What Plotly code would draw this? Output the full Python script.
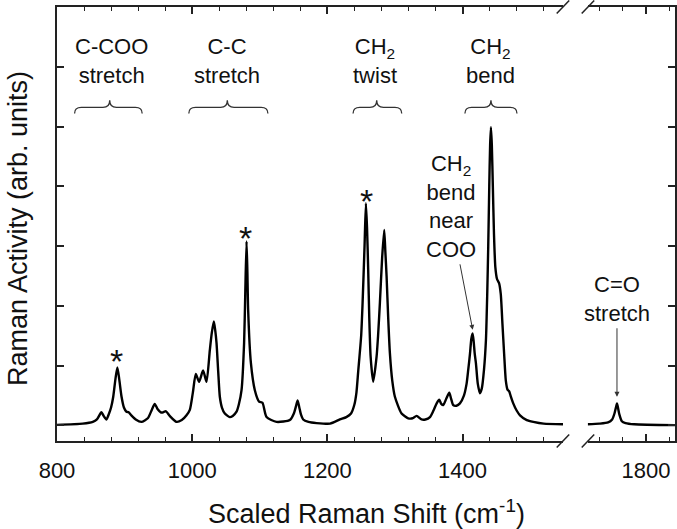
import plotly.graph_objects as go

# ---------------- data ----------------
x_left = [800, 838, 853, 859, 865.7, 869, 873.1, 877, 880, 883.2, 886.5, 889.3, 892, 895.5, 899,
          902.7, 906, 910, 916.5, 925, 934.3, 940.2, 944.6, 949, 953.5, 957, 960.9, 966.8, 976.8,
          984.6, 991.6, 996.5, 1001, 1005.3, 1010.2, 1016.1, 1021.2, 1026.1, 1029, 1032, 1034,
          1036, 1038.5, 1040.9, 1044, 1048.3, 1055.7, 1060, 1065.6, 1069, 1073, 1076.8, 1078.5,
          1080.4, 1081.6, 1082.8, 1086.8, 1092.7, 1099, 1104, 1110, 1124.8, 1144.5, 1150.4,
          1153.5, 1156, 1158.5, 1161, 1164.2, 1172, 1184, 1204, 1218.5, 1228, 1235, 1240, 1243,
          1245.6, 1250, 1252.1, 1255, 1257, 1258.7, 1260.4, 1262, 1264, 1267.8, 1272.8, 1275,
          1277.7, 1281, 1284.1, 1285.8, 1287.6, 1290, 1292.5, 1296, 1299.9, 1309.8, 1319.6, 1326,
          1332, 1339.4, 1345, 1351.8, 1357, 1361.7, 1365.5, 1368.5, 1371.4, 1376, 1380.3, 1383,
          1386.2, 1391, 1396.1, 1402, 1406, 1408.4, 1411, 1413, 1414.9, 1416.5, 1418, 1419.8,
          1422.5, 1425.7, 1428.5, 1431.7, 1434.6, 1436.5, 1438, 1439.5, 1440.8, 1442, 1443.3,
          1444.8, 1446.5, 1448.5, 1451, 1454, 1456.5, 1459, 1461.5, 1464, 1466.5, 1469, 1471,
          1475, 1480, 1485, 1495, 1504.7, 1520, 1548.6]
y_left = [0.01, 0.03, 0.06, 0.1, 0.22, 0.16, 0.10, 0.2, 0.3, 0.48, 0.78, 0.97, 0.78, 0.48, 0.3,
          0.23, 0.22, 0.17, 0.1, 0.06, 0.12, 0.26, 0.36, 0.27, 0.22, 0.22, 0.24, 0.16, 0.06,
          0.09, 0.17, 0.26, 0.55, 0.86, 0.73, 0.92, 0.73, 1.26, 1.55, 1.74, 1.6,
          1.38, 0.9, 0.48, 0.3, 0.2, 0.14, 0.16, 0.23, 0.35, 0.59, 1.38, 2.2,
          3.08, 2.6, 1.93, 1.05, 0.59, 0.40, 0.38, 0.14, 0.06, 0.09, 0.2,
          0.32, 0.42, 0.3, 0.18, 0.1, 0.06, 0.04, 0.03, 0.1, 0.14, 0.2, 0.35, 0.55,
          0.9, 1.5, 2.05, 3.0, 3.72, 3.3, 2.6, 1.8, 1.15, 0.73, 1.15, 1.5,
          2.05, 2.8, 3.27, 2.9, 2.5, 1.8, 1.21, 0.75, 0.48, 0.2, 0.12, 0.12,
          0.16, 0.10, 0.1, 0.14, 0.25, 0.37, 0.43, 0.36, 0.34, 0.45, 0.55, 0.45,
          0.34, 0.33, 0.37, 0.5, 0.7, 0.93, 1.2, 1.45, 1.54, 1.4, 1.2, 1.04,
          0.7, 0.54, 0.62, 0.93, 1.43, 2.2, 3.0, 4.0, 4.7, 4.99, 4.7,
          4.0, 3.2, 2.65, 2.45, 2.38, 2.2, 1.7, 1.2, 0.75, 0.6, 0.57, 0.5,
          0.37, 0.25, 0.17, 0.09, 0.06, 0.03, 0.02]

x_right = [1700, 1720, 1735, 1742, 1746, 1748.5, 1750.3, 1752, 1754.5, 1758.7, 1765, 1780, 1850]
y_right = [0.02, 0.03, 0.05, 0.1, 0.2, 0.3, 0.37, 0.3, 0.18, 0.07, 0.04, 0.02, 0.005]

group_labels = ["C-COO<br>stretch", "C-C<br>stretch", "CH<sub>2</sub><br>twist", "CH<sub>2</sub><br>bend"]
group_centers = [880.5, 1051, 1271, 1441.6]
brace_lo = [826, 995, 1238, 1403.5]
brace_hi = [926, 1112, 1310, 1480.5]
brace_tip = [878, 1052, 1273, 1442]

star_x = [888, 1079, 1258]
star_y = [1.07, 3.14, 3.76]

left_major = [800, 1000, 1200, 1400]
right_major = [1800]

FONT = "Liberation Sans, Arial, sans-serif"
AX = "#222222"

fig = go.Figure()
fig.add_trace(go.Scatter(x=x_left, y=y_left, mode="lines", xaxis="x", yaxis="y",
                         line=dict(color="black", width=2.4, shape="spline", smoothing=0.6),
                         showlegend=False, hoverinfo="skip"))
fig.add_trace(go.Scatter(x=x_right, y=y_right, mode="lines", xaxis="x2", yaxis="y2",
                         line=dict(color="black", width=2.4, shape="spline", smoothing=0.6),
                         showlegend=False, hoverinfo="skip"))

W, H = 677, 529
L, R, T, B = 57, 2, 7, 88
pw = W - L - R
ph = H - T - B
split_l = (563 - L) / pw
split_r = (587.7 - L) / pw

common_x = dict(showgrid=False, zeroline=False, showline=True, linecolor=AX, linewidth=1.5,
                mirror="ticks", ticks="inside", ticklen=7, tickwidth=1.5, tickcolor=AX,
                tickfont=dict(family=FONT, size=22, color="#111"), ticklabelstandoff=9)

fig.update_layout(
    width=W, height=H, margin=dict(l=L, r=R, t=T, b=B),
    paper_bgcolor="white", plot_bgcolor="white",
    xaxis=dict(domain=[0, split_l], range=[800, 1548.6], tickvals=left_major, anchor="y",
               minor=dict(tick0=800, dtick=40, ticks="inside", ticklen=4, tickwidth=1.3, tickcolor=AX),
               **common_x),
    xaxis2=dict(domain=[split_r, 1], range=[1700, 1850], tickvals=right_major, anchor="y2",
                minor=dict(tick0=1720, dtick=40, ticks="inside", ticklen=4, tickwidth=1.3, tickcolor=AX),
                **common_x),
    yaxis=dict(domain=[0, 1], range=[-0.26, 7.0], anchor="x", side="left", showgrid=False,
               zeroline=False, showline=True, linecolor=AX, linewidth=1.5, ticks="inside",
               ticklen=7, tickwidth=1.5, tickcolor=AX, dtick=1, tick0=0, showticklabels=False),
    yaxis2=dict(domain=[0, 1], range=[-0.26, 7.0], anchor="x2", side="right", showgrid=False,
                zeroline=False, showline=True, linecolor=AX, linewidth=1.5, ticks="inside",
                ticklen=7, tickwidth=1.5, tickcolor=AX, dtick=1, tick0=0, showticklabels=False),
)

annos = []
# group labels
for lab, cx in zip(group_labels, group_centers):
    annos.append(dict(x=cx, y=6.09, xref="x", yref="y", text=lab, showarrow=False,
                      xanchor="center", yanchor="middle",
                      font=dict(family=FONT, size=22, color="#111")))
# stars
for sx, sy in zip(star_x, star_y):
    annos.append(dict(x=sx, y=sy, xref="x", yref="y", text="*", showarrow=False,
                      xanchor="center", yanchor="middle",
                      font=dict(family=FONT, size=34, color="#111")))
# CH2 bend near COO
annos.append(dict(x=1383.4, y=3.67, xref="x", yref="y",
                  text="CH<sub>2</sub><br>bend<br>near<br>COO", showarrow=False,
                  xanchor="center", yanchor="middle", font=dict(family=FONT, size=22, color="#111")))
annos.append(dict(x=1415, y=1.6, xref="x", yref="y", text="", showarrow=True,
                  ax=-13, ay=-67, arrowhead=2, arrowsize=1, arrowwidth=1, arrowcolor="#333",
                  standoff=0))
# C=O stretch
annos.append(dict(x=1750.3, y=2.12, xref="x2", yref="y2", text="C=O<br>stretch", showarrow=False,
                  xanchor="center", yanchor="middle", font=dict(family=FONT, size=22, color="#111")))
annos.append(dict(x=1750.3, y=0.48, xref="x2", yref="y2", text="", showarrow=True,
                  ax=0, ay=-70, arrowhead=2, arrowsize=1, arrowwidth=1, arrowcolor="#333",
                  standoff=0))
# axis titles
annos.append(dict(x=(366 - L) / pw, y=(H - 512 - B) / ph, xref="paper", yref="paper",
                  text="Scaled Raman Shift (cm<sup>-1</sup>)", showarrow=False,
                  xanchor="center", yanchor="middle", font=dict(family=FONT, size=27, color="#111")))
annos.append(dict(x=(18 - L) / pw, y=(H - B - 229) / ph, xref="paper", yref="paper",
                  text="Raman Activity (arb. units)", showarrow=False, textangle=-90,
                  xanchor="center", yanchor="middle", font=dict(family=FONT, size=27, color="#111")))
fig.update_layout(annotations=annos)

shapes = []
# braces
yb, ym, yt, d = 5.22, 5.32, 5.44, 10
for lo, hi, tip in zip(brace_lo, brace_hi, brace_tip):
    path = (f"M {lo},{yb} Q {lo},{ym} {lo + d},{ym} L {tip - d},{ym} Q {tip},{ym} {tip},{yt} "
            f"Q {tip},{ym} {tip + d},{ym} L {hi - d},{ym} Q {hi},{ym} {hi},{yb}")
    shapes.append(dict(type="path", path=path, xref="x", yref="y",
                       line=dict(color="#333", width=1.3)))
# axis break slashes
def px2paper(px, py):
    return (px - L) / pw, (H - B - py) / ph

for yc in (441, 7):
    for x0 in (556.7, 581.7):
        a = px2paper(x0, yc + 6.5)
        b = px2paper(x0 + 12.5, yc - 6.5)
        shapes.append(dict(type="line", xref="paper", yref="paper", x0=a[0], y0=a[1],
                           x1=b[0], y1=b[1], line=dict(color=AX, width=1.5)))
fig.update_layout(shapes=shapes)

fig.write_html("out.html", config={"displayModeBar": False},
               post_script="document.body.style.margin='0px';document.body.style.overflow='hidden';")
